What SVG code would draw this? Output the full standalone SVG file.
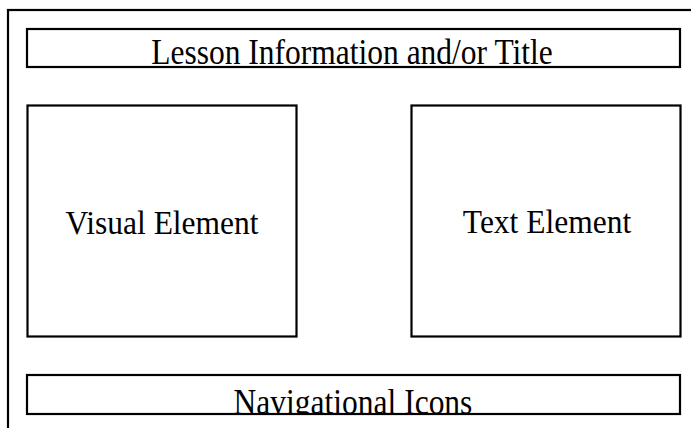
<svg xmlns="http://www.w3.org/2000/svg" width="691" height="428" viewBox="0 0 691 428">
<style>
.box{fill:#fff;stroke:#000;stroke-width:2.2}
.frame{fill:none;stroke:#000;stroke-width:2.2}
.lbl{font-family:"Liberation Serif","Times New Roman",serif;font-size:31.5px;fill:#000;text-anchor:middle}
</style>
<defs>
<clipPath id="navclip"><rect x="27" y="375" width="653" height="39"/></clipPath>
</defs>
<rect width="691" height="428" fill="#fff"/>
<rect class="frame" x="8" y="10" width="700" height="440"/>
<g id="title">
<rect class="box" x="27" y="29" width="653" height="38"/>
<text class="lbl" transform="translate(352,64) scale(1,1.15)">Lesson Information and/or Title</text>
</g>
<g id="visual">
<rect class="box" x="27.5" y="105.5" width="269" height="231"/>
<text class="lbl" transform="translate(162,234) scale(1,1.05)">Visual Element</text>
</g>
<g id="textel">
<rect class="box" x="411.5" y="105.5" width="269" height="231"/>
<text class="lbl" transform="translate(547,233) scale(1,1.05)">Text Element</text>
</g>
<g id="nav">
<g clip-path="url(#navclip)">
<text class="lbl" transform="translate(353,414) scale(1,1.15)">Navigational Icons</text>
</g>
<rect class="frame" x="27" y="375" width="653" height="39"/>
</g>
<g id="connectors"/>
</svg>
